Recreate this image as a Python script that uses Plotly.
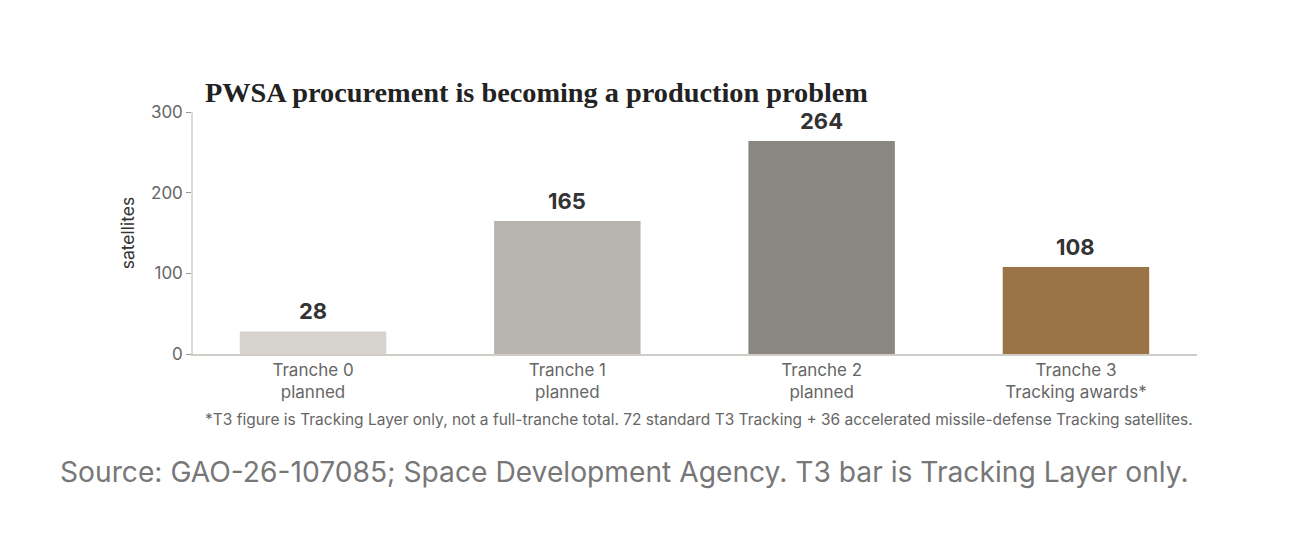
import plotly.graph_objects as go

categories = ["Tranche 0<br>planned", "Tranche 1<br>planned", "Tranche 2<br>planned", "Tranche 3<br>Tracking awards*"]
values = [28, 165, 264, 108]
bar_colors = ["#d7d4cf", "#b8b5b0", "#8a8782", "#9a7346"]
y_ticks = [0, 100, 200, 300]

title_text = "PWSA procurement is becoming a production problem"
footnote_text = "*T3 figure is Tracking Layer only, not a full-tranche total. 72 standard T3 Tracking + 36 accelerated missile-defense Tracking satellites."
source_text = "Source: GAO-26-107085; Space Development Agency. T3 bar is Tracking Layer only."

W, H = 1292, 552
OFF = 8  # page offset
L, R, T, B = 193, 1197, 112, 354  # plot area in screenshot pixels
pw, ph = R - L, B - T

def px(x):
    return (x - L) / pw

def py(y):
    return (B - y) / ph

fig = go.Figure(
    go.Bar(
        x=list(range(len(categories))),
        y=values,
        marker=dict(color=bar_colors, line=dict(width=0)),
        width=0.576,
        hoverinfo="skip",
    )
)

for i, v in enumerate(values):
    fig.add_annotation(
        x=i, y=v, xref="x", yref="y", text=f"<b>{v}</b>", showarrow=False,
        xanchor="center", yanchor="bottom", yshift=5,
        font=dict(family="Inter", size=22, color="#333333"),
    )

fig.update_layout(
    width=W,
    height=H,
    margin=dict(l=L - OFF, r=W - R + OFF, t=T - OFF, b=H - B + OFF, pad=0),
    paper_bgcolor="white",
    plot_bgcolor="white",
    showlegend=False,
    font=dict(family="Inter", color="#666666"),
    xaxis=dict(
        range=[-0.472, 3.476],
        tickmode="array",
        tickvals=list(range(len(categories))),
        ticktext=categories,
        tickfont=dict(family="Inter", size=17, color="#666666"),
        showgrid=False,
        zeroline=False,
        showline=True,
        linecolor="#d0cdc8",
        linewidth=1.5,
        ticks="",
        fixedrange=True,
    ),
    yaxis=dict(
        range=[0, 300],
        tickmode="array",
        tickvals=y_ticks,
        tickfont=dict(family="Inter", size=17, color="#666666"),
        showgrid=False,
        zeroline=False,
        showline=True,
        linecolor="#dddad5",
        linewidth=1.5,
        ticks="outside",
        ticklen=5,
        tickcolor="#999999",
        title=dict(text="satellites", font=dict(family="Inter", size=17.5, color="#333333"), standoff=12),
        fixedrange=True,
    ),
    annotations=list(fig.layout.annotations) + [
        dict(text="<b>" + title_text + "</b>", xref="paper", yref="paper", x=px(203), y=py(93),
             xanchor="left", yanchor="middle", showarrow=False,
             font=dict(family="Liberation Serif", size=28.3, color="#222222")),
        dict(text=footnote_text, xref="paper", yref="paper", x=px(203), y=py(419),
             xanchor="left", yanchor="middle", showarrow=False,
             font=dict(family="Inter", size=15.5, color="#666666")),
        dict(text=source_text, xref="paper", yref="paper", x=px(58), y=py(472),
             xanchor="left", yanchor="middle", showarrow=False,
             font=dict(family="Inter", size=28.2, color="#777777")),
    ],
)

fig.write_html("out.html")
